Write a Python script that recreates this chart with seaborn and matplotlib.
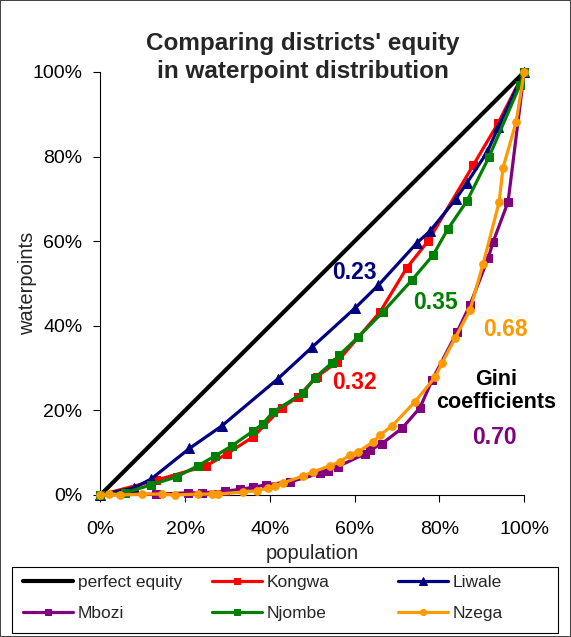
import matplotlib
matplotlib.use("Agg")
import matplotlib.pyplot as plt
import numpy as np
import pandas as pd
import seaborn as sns
from matplotlib.patches import Rectangle
from matplotlib.ticker import PercentFormatter

sns.set_style("white")
plt.rcParams["font.family"] = ["Liberation Sans", "DejaVu Sans"]

# Lorenz curves: cumulative share of population (x) vs waterpoints (y), in %
equity_x = [0, 100]
equity_y = [0, 100]

kongwa_x = [0, 13.2, 25, 29.8, 36, 42.8, 46.6, 51, 55.8, 66, 72.3, 77.3, 88, 93.9, 100]
kongwa_y = [0, 3.5, 6.9, 9.7, 13.7, 20.6, 23.2, 27.9, 31.4, 43.3, 53.7, 60, 78, 88, 100]

liwale_x = [0, 8, 12, 21, 28.6, 41.8, 49.9, 60, 65.6, 74.7, 77.8, 83.9, 86.5, 91.3, 93.9, 100]
liwale_y = [0, 1.7, 3.8, 11, 16.3, 27.4, 34.9, 44.1, 49.6, 59.6, 62.4, 70, 73.8, 81.1, 87, 100]

mbozi_x = [0, 13, 20.6, 23.9, 29.3, 32.9, 36, 39, 44.7, 51.8, 53.7, 56, 62.4, 63.6, 66.4,
           71.2, 75.4, 78.3, 84.2, 87.2, 91.5, 92.7, 96.2, 100]
mbozi_y = [0, 0.2, 0.5, 0.5, 0.9, 1.3, 1.8, 2.4, 3.1, 5.1, 5.7, 6.7, 9.7, 10.6, 12.1,
           15.8, 20.6, 27.2, 38.6, 44.9, 56, 59.9, 69.3, 100]

njombe_x = [0, 5.7, 12, 18, 23, 27, 31, 36, 38.3, 40.7, 47.8, 50.6, 54.6, 56.3, 60.8,
            66.7, 73.5, 78.5, 82, 86.5, 91.7, 99, 100]
njombe_y = [0, 0.5, 2.4, 4.3, 6.9, 9.2, 11.6, 15.1, 16.8, 19.6, 24.1, 27.7, 31.2, 33, 37.3,
            43.3, 50.8, 56.7, 62.9, 69.5, 79.9, 96.9, 100]

nzega_x = [0, 2, 4.5, 9.7, 14.4, 17.5, 23, 26.2, 27.7, 33.6, 36.9, 39.5, 41.1, 43, 47.8,
           50.1, 54.1, 56.5, 58.9, 60.8, 64.3, 66, 68.8, 74.2, 79, 80.6, 83.7, 87.2, 90.3,
           94.1, 95, 98.1, 100]
nzega_y = [0, 0.2, 0, 0.2, 0.2, 0, 0.2, 0.2, 0.2, 0.7, 1, 1.6, 2.1, 2.8, 4.5,
           5.4, 6.9, 7.8, 9.5, 10.2, 12.5, 14.2, 16.3, 22, 27.9, 31.2, 37.1, 43.7, 54.6,
           69.3, 77.3, 88.2, 100]

ticks = [0, 20, 40, 60, 80, 100]

series = [
    ("perfect equity", equity_x, equity_y, "black", None),
    ("Kongwa", kongwa_x, kongwa_y, "#FF0000", "s"),
    ("Liwale", liwale_x, liwale_y, "#000080", "^"),
    ("Mbozi", mbozi_x, mbozi_y, "#800080", "s"),
    ("Njombe", njombe_x, njombe_y, "#008000", "s"),
    ("Nzega", nzega_x, nzega_y, "#FF9900", "o"),
]

# Gini coefficient labels: text, x, y, colour
gini_notes = [
    ("0.23", 60, 52.5, "#000080"),
    ("0.35", 79, 45.4, "#008000"),
    ("0.32", 60, 26.5, "#FF0000"),
    ("0.68", 95.5, 39, "#FF9900"),
    ("0.70", 92.9, 13.7, "#800080"),
]

fig = plt.figure(figsize=(5.71, 6.37), dpi=100, linewidth=1.2, edgecolor="#444444")
ax = fig.add_axes([0.176, 0.223, 0.742, 0.664])

for name, xs, ys, color, marker in series:
    df = pd.DataFrame({"population": xs, "waterpoints": ys})
    sns.lineplot(data=df, x="population", y="waterpoints", ax=ax, sort=False,
                 color=color, marker=marker, markersize=5.5 if marker != "^" else 7,
                 markeredgecolor=color, linewidth=3.0 if marker is None else 2.3,
                 clip_on=False, label=name, zorder=3 if marker else 2)

ax.set_xlim(0, 100)
ax.set_ylim(0, 100)
ax.set_xticks(ticks)
ax.set_yticks(ticks)
ax.xaxis.set_major_formatter(PercentFormatter(decimals=0))
ax.yaxis.set_major_formatter(PercentFormatter(decimals=0))
ax.tick_params(axis="both", labelsize=14, length=5, width=0.8, direction="out",
               bottom=True, left=True, colors="black")
ax.tick_params(axis="x", pad=14)
ax.tick_params(axis="y", pad=8)
for side in ["top", "right"]:
    ax.spines[side].set_visible(False)
for side in ["left", "bottom"]:
    ax.spines[side].set_color("black")
    ax.spines[side].set_linewidth(0.8)
ax.set_xlabel("population", fontsize=14.5, labelpad=4)
ax.set_ylabel("waterpoints", fontsize=14.5, labelpad=-3)

for txt, x, y, color in gini_notes:
    ax.text(x, y, txt, color=color, fontsize=16.5, fontweight="bold", ha="center", va="center")
ax.text(93.4, 24.6, "Gini\ncoefficients", color="black", fontsize=15.5, fontweight="bold",
        ha="center", va="center", linespacing=1.1)

fig.text(0.531, 0.9097, "Comparing districts' equity\nin waterpoint distribution",
         ha="center", va="center", fontsize=17.5, fontweight="bold", linespacing=1.3)

# legend: three equal-width columns inside one frame, like the spreadsheet chart
handles, labels = ax.get_legend_handles_labels()
ax.get_legend().remove()
columns = [[0, 3], [1, 4], [2, 5]]
col_x = [23, 212, 398]
for idx, x0 in zip(columns, col_x):
    fig.legend([handles[i] for i in idx], [labels[i] for i in idx], loc="upper left",
               bbox_to_anchor=(x0 / 571, 1 - 575 / 637), frameon=False, fontsize=12.5,
               borderpad=0, borderaxespad=0, handlelength=2.9, handletextpad=0.25,
               labelspacing=0.9, markerscale=0.8)
fig.patches.append(Rectangle((12 / 571, 1 - 633 / 637), 546 / 571, 66 / 637,
                             transform=fig.transFigure, fill=False, edgecolor="black",
                             linewidth=0.8))

fig.savefig("out.png", dpi=100, edgecolor=fig.get_edgecolor())
